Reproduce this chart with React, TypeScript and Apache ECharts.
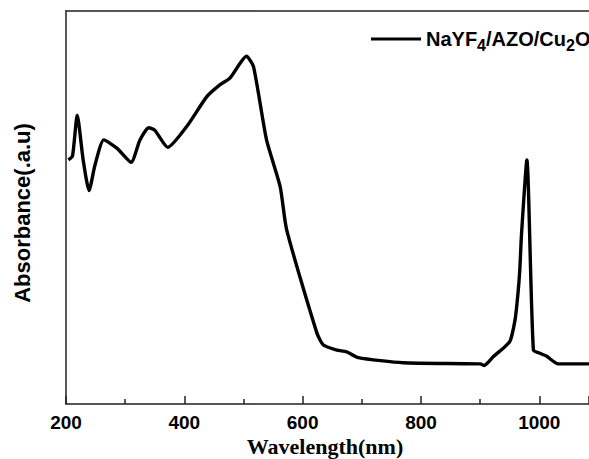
import React, { useEffect, useRef } from "react";
import * as echarts from "echarts";

const wavelength = [204, 211, 219, 229, 239, 249, 264, 286, 310, 325, 340, 350, 372, 404, 438, 460, 477, 505, 517, 539, 562, 573, 624, 635, 658, 674, 694, 770, 900, 907, 922, 950, 959, 964, 967, 970, 979, 990, 1001, 1012, 1032, 1100];
const absorbance = [62.1, 63.1, 73.5, 62.1, 54.3, 60.8, 67.2, 65.1, 61.5, 67.2, 70.3, 69.7, 65.3, 70.6, 78.2, 81.2, 82.9, 88.5, 85.8, 67.2, 55.3, 44.3, 18.1, 15.0, 13.7, 13.3, 11.8, 10.5, 10.2, 9.8, 12.0, 15.9, 21.4, 28.2, 34.1, 43.4, 62.1, 13.7, 12.9, 12.2, 10.2, 10.2];
const seriesName = "NaYF4/AZO/Cu2O";
const xTicks = [200, 400, 600, 800, 1000];

export default function App() {
  const ref = useRef<HTMLDivElement>(null);
  useEffect(() => {
    if (!ref.current) return;
    const chart = echarts.init(ref.current, undefined, { renderer: "svg" });
    const data = wavelength.map((w, i) => [w, absorbance[i]]);
    const axisColor = "#222";
    chart.setOption({
      animation: false,
      backgroundColor: "#fff",
      grid: { left: 66, top: 11, right: 0, bottom: 55 },
      legend: {
        left: 366,
        top: 24,
        icon: "rect",
        itemWidth: 50,
        itemHeight: 3,
        itemGap: 4,
        data: [seriesName],
        formatter: () => "{a|NaYF}{s|4}{a|/AZO/Cu}{s|2}{a|O}",
        textStyle: {
          rich: {
            a: { fontFamily: "Arial, 'Liberation Sans'", fontWeight: "bold", fontSize: 20, color: "#000" },
            s: { fontFamily: "Arial, 'Liberation Sans'", fontWeight: "bold", fontSize: 16, color: "#000", padding: [12, 0, 0, 0] },
          },
        },
      },
      xAxis: [
        {
          type: "value",
          min: 200,
          max: 1084,
          interval: 200,
          axisLine: { show: true, lineStyle: { color: axisColor, width: 1.5 } },
          axisTick: {
            show: true,
            inside: true,
            length: 8,
            lineStyle: { color: axisColor, width: 1.5 },
          },
          minorTick: { show: true, splitNumber: 2, length: 5, lineStyle: { color: axisColor, width: 1.5 } },
          splitLine: { show: false },
          axisLabel: {
            margin: 9,
            color: "#000",
            fontFamily: "Arial, 'Liberation Sans'",
            fontWeight: "bold",
            fontSize: 19,
            showMaxLabel: false,
            formatter: (v: number) => (xTicks.includes(v) ? String(v) : ""),
          },
        },
        {
          type: "value",
          position: "top",
          min: 200,
          max: 1084,
          axisLine: { show: true, lineStyle: { color: axisColor, width: 1.5 } },
          axisTick: { show: false },
          axisLabel: { show: false },
          splitLine: { show: false },
        },
      ],
      yAxis: {
        type: "value",
        min: 0,
        max: 100,
        axisLine: { show: true, lineStyle: { color: axisColor, width: 1.5 } },
        axisTick: { show: false },
        axisLabel: { show: false },
        splitLine: { show: false },
      },
      graphic: [
        {
          type: "text",
          x: 22,
          y: 213,
          rotation: Math.PI / 2,
          style: {
            text: "Absorbance(.a.u)",
            fontFamily: "Arial, 'Liberation Sans'",
            fontWeight: "bold",
            fontSize: 22,
            fill: "#000",
            align: "center",
            verticalAlign: "middle",
          },
        },
        {
          type: "text",
          x: 325,
          y: 446,
          style: {
            text: "Wavelength(nm)",
            fontFamily: "'Times New Roman', 'Liberation Serif', serif",
            fontWeight: "bold",
            fontSize: 22,
            fill: "#000",
            align: "center",
            verticalAlign: "middle",
          },
        },
      ],
      series: [
        {
          name: seriesName,
          type: "line",
          xAxisIndex: 0,
          data,
          showSymbol: false,
          smooth: 0.2,
          lineStyle: { color: "#000", width: 3.4 },
          itemStyle: { color: "#000" },
        },
      ],
    });
    return () => chart.dispose();
  }, []);
  return <div ref={ref} style={{ position: "fixed", left: 0, top: 0, width: 589, height: 459, overflow: "hidden" }} />;
}
